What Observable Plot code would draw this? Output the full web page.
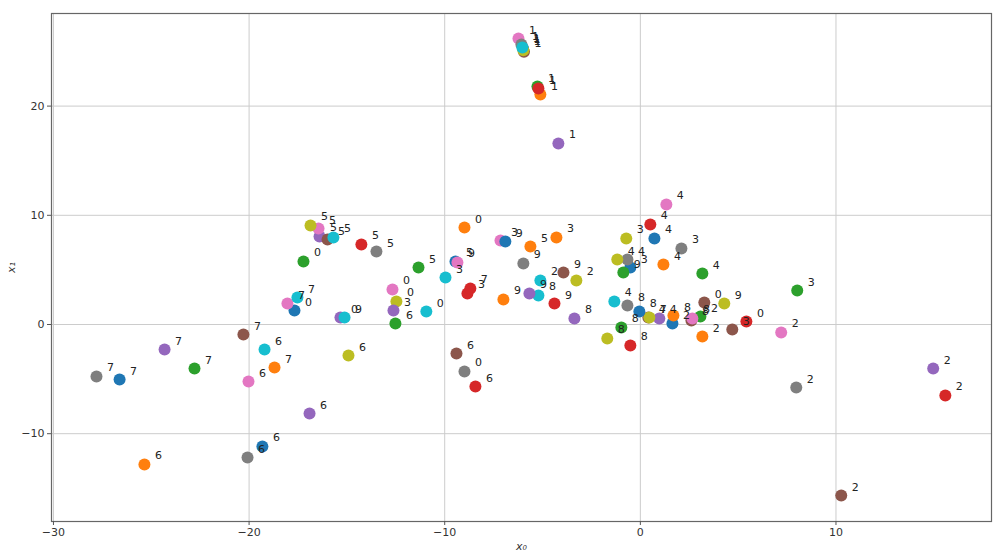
<!DOCTYPE html>
<html><head><meta charset="utf-8">
<script src="https://cdn.jsdelivr.net/npm/d3@7"></script>
<script src="https://cdn.jsdelivr.net/npm/@observablehq/plot@0.6"></script>
<style>body{margin:0;background:#fff} svg{display:block}</style>
</head><body><div id="chart"></div>
<script>
// tab10 colour cycle (one colour per sample within each digit)
const palette = ["#1f77b4","#ff7f0e","#2ca02c","#d62728","#9467bd","#8c564b","#e377c2","#7f7f7f","#bcbd22","#17becf"];
// point labels (digit), ordered digit-major, colour-minor
const digits = [
  0,0,0,0,0,0,0,0,0,0, 1,1,1,1,1,1,1,1,1,1, 2,2,2,2,2,2,2,2,2,2, 3,3,3,3,3,3,3,3,3,3,
  4,4,4,4,4,4,4,4,4,4, 5,5,5,5,5,5,5,5,5,5, 6,6,6,6,6,6,6,6,6,6, 7,7,7,7,7,7,7,7,7,7,
  8,8,8,8,8,8,8,8,8,8, 9,9,9,9,9,9,9,9,9,9];
const x0 = [
  -17.68,-8.99,-17.22,5.42,-15.33,3.27,-12.67,-8.99,-12.47,-10.94,
  -6.00,-5.11,-5.26,-5.21,-4.19,-5.95,-6.23,-6.08,-5.98,-6.03,
  1.64,3.17,3.07,15.59,14.97,10.27,7.20,7.97,-3.27,-5.11,
  -0.51,-4.29,8.02,-8.84,-12.62,4.70,-7.15,2.10,-0.72,-9.96,
  0.72,1.18,3.17,0.51,0.97,0.41,1.33,-0.66,-1.18,-1.33,
  -9.45,-5.62,-11.34,-14.26,-16.40,-15.99,-16.45,-13.49,-16.86,-15.69,
  -19.32,-25.35,-12.52,-8.43,-16.91,-9.40,-20.03,-20.08,-14.92,-19.21,
  -26.62,-18.70,-22.79,-8.69,-24.32,-20.29,-18.04,-27.80,0.46,-17.53,
  -0.05,1.69,-0.97,-0.51,-3.37,2.61,2.66,-0.66,-1.69,-5.21,
  -6.90,-7.00,-0.87,-4.39,-5.67,-3.93,-9.35,-5.98,4.29,-15.12];
const x1 = [
  1.28,8.88,5.77,0.27,0.64,2.01,3.21,-4.30,2.11,1.19,
  25.30,21.06,21.79,21.61,16.58,24.98,26.19,25.64,25.12,25.37,
  0.09,-1.10,0.73,-6.50,-4.03,-15.66,-0.73,-5.77,4.03,4.03,
  5.22,7.97,3.11,2.84,1.28,-0.46,7.69,6.96,7.88,4.30,
  7.88,5.49,4.67,9.16,0.55,0.64,10.99,5.95,5.95,2.11,
  5.77,7.14,5.22,7.33,8.06,7.78,8.79,6.68,9.07,7.97,
  -11.17,-12.82,0.09,-5.68,-8.15,-2.66,-5.22,-12.18,-2.84,-2.29,
  -5.04,-3.94,-4.03,3.30,-2.29,-0.92,1.92,-4.76,0.64,2.47,
  1.19,0.82,-0.27,-1.92,0.55,0.37,0.55,1.74,-1.28,2.66,
  7.60,2.29,4.76,1.92,2.84,4.76,5.68,5.59,1.92,0.64];
const xTicks = [-30,-20,-10,0,10];
const yTicks = [-10,0,10,20];

const rows = digits.map((d, i) => ({digit: String(d), x: x0[i], y: x1[i], color: palette[i % 10]}));

const chart = Plot.plot({
  width: 1000, height: 556,
  marginLeft: 51, marginRight: 9, marginTop: 13, marginBottom: 35,
  x: {domain: [-30.1, 17.95]},
  y: {domain: [-18.04, 28.48]},
  color: {type: "identity"},
  style: {fontFamily: "DejaVu Sans", fontSize: "11px", color: "#333", background: "#fff"},
  marks: [
    Plot.gridX(xTicks, {stroke: "#cccccc", strokeOpacity: 1, strokeWidth: 1}),
    Plot.gridY(yTicks, {stroke: "#cccccc", strokeOpacity: 1, strokeWidth: 1}),
    Plot.frame({stroke: "#666", strokeWidth: 1.2}),
    Plot.axisX(xTicks, {tickSize: 4, tickPadding: 3, stroke: "#555", label: "x₀", labelAnchor: "center", labelArrow: "none", labelOffset: 28}),
    Plot.axisY(yTicks, {tickSize: 4, tickPadding: 3, stroke: "#555", label: "x₁", labelAnchor: "center", labelArrow: "none", labelOffset: 44}),
    Plot.dot(rows, {x: "x", y: "y", r: 6, fill: "color"}),
    Plot.text(rows, {x: "x", y: "y", text: "digit", dx: 10.5, dy: -5, textAnchor: "start", lineAnchor: "bottom", fill: "#222", fontSize: 11})
  ]
});
d3.select(chart).selectAll('[aria-label="x-axis label"] text, [aria-label="y-axis label"] text').style("font-style", "italic");
document.getElementById("chart").appendChild(chart);
</script>
</body></html>
